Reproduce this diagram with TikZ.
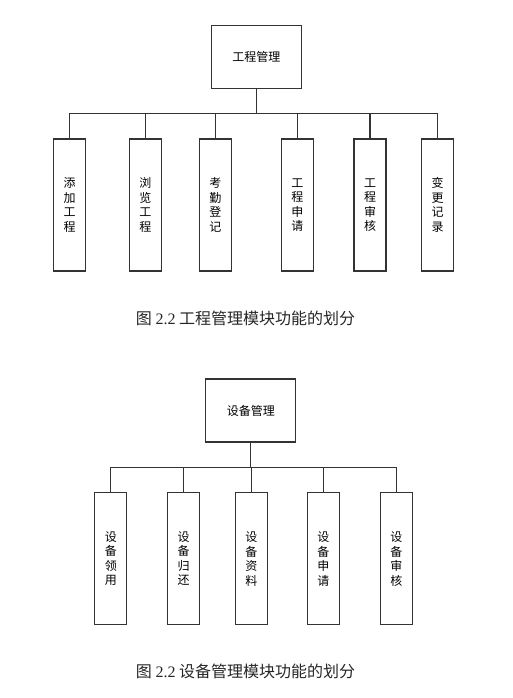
\documentclass[tikz,border=0pt]{standalone}
\usepackage{fontspec}
\newfontfamily\cjk{Noto Sans CJK SC}
\newfontfamily\numfont{Liberation Serif}
\usetikzlibrary{positioning}

\tikzset{
  boxline/.style={draw=black!80, line width=1.3pt},
  rootbox/.style={boxline, minimum width=90pt, minimum height=63pt, inner sep=0pt,
    font=\cjk\fontsize{12}{14}\selectfont},
  leafbox/.style={boxline, minimum width=32pt, minimum height=132pt, inner sep=0pt,
    align=center, font=\cjk\fontsize{12}{14.5}\selectfont},
  wire/.style={draw=black!80, line width=1.3pt},
  caption/.style={font=\cjk\fontsize{16}{18}\selectfont, text=black!85}
}

\begin{document}
\begin{tikzpicture}[x=1pt, y=-1pt]
    \useasboundingbox (0,0) rectangle (512,698);
    % first tree
    \node[rootbox] (gc) at (256.3,57.3) {工程管理};
    \coordinate (gcbus) at (256.3,113.7);
    \node[leafbox] (gc1) at (69.7,205) {添\\加\\工\\程};
    \node[leafbox] (gc2) at (145.3,205) {浏\\览\\工\\程};
    \node[leafbox] (gc3) at (215.3,205) {考\\勤\\登\\记};
    \node[leafbox] (gc4) at (297.3,205) {工\\程\\申\\请};
    \node[leafbox] (gc5) at (370,205) {工\\程\\审\\核};
    \node[leafbox] (gc6) at (437.5,205) {变\\更\\记\\录};
    \draw[wire] (gc.south) -- (gcbus);
    \draw[wire] (gc1.north) -- (gc1.north |- gcbus) -- (gc6.north |- gcbus) -- (gc6.north);
    \draw[wire] (gc2.north) -- (gc2.north |- gcbus);
    \draw[wire] (gc3.north) -- (gc3.north |- gcbus);
    \draw[wire] (gc4.north) -- (gc4.north |- gcbus);
    \draw[wire] (gc5.north) -- (gc5.north |- gcbus);
    \node[caption] (cap1) at (245.5,318) {图 {\numfont 2.2} 工程管理模块功能的划分};
    % second tree
    \node[rootbox] (sb) at (250.8,410.5) {设备管理};
    \coordinate (sbbus) at (250.8,467.3);
    \node[leafbox] (sb1) at (110.8,558.8) {设\\备\\领\\用};
    \node[leafbox] (sb2) at (183.7,558.8) {设\\备\\归\\还};
    \node[leafbox] (sb3) at (251.3,558.8) {设\\备\\资\\料};
    \node[leafbox] (sb4) at (323.3,558.8) {设\\备\\申\\请};
    \node[leafbox] (sb5) at (396.3,558.8) {设\\备\\审\\核};
    \draw[wire] (sb.south) -- (sbbus);
    \draw[wire] (sb1.north) -- (sb1.north |- sbbus) -- (sb5.north |- sbbus) -- (sb5.north);
    \draw[wire] (sb2.north) -- (sb2.north |- sbbus);
    \draw[wire] (sb3.north) -- (sb3.north |- sbbus);
    \draw[wire] (sb4.north) -- (sb4.north |- sbbus);
    \node[caption] (cap2) at (245.5,671.7) {图 {\numfont 2.2} 设备管理模块功能的划分};
\end{tikzpicture}
\end{document}
